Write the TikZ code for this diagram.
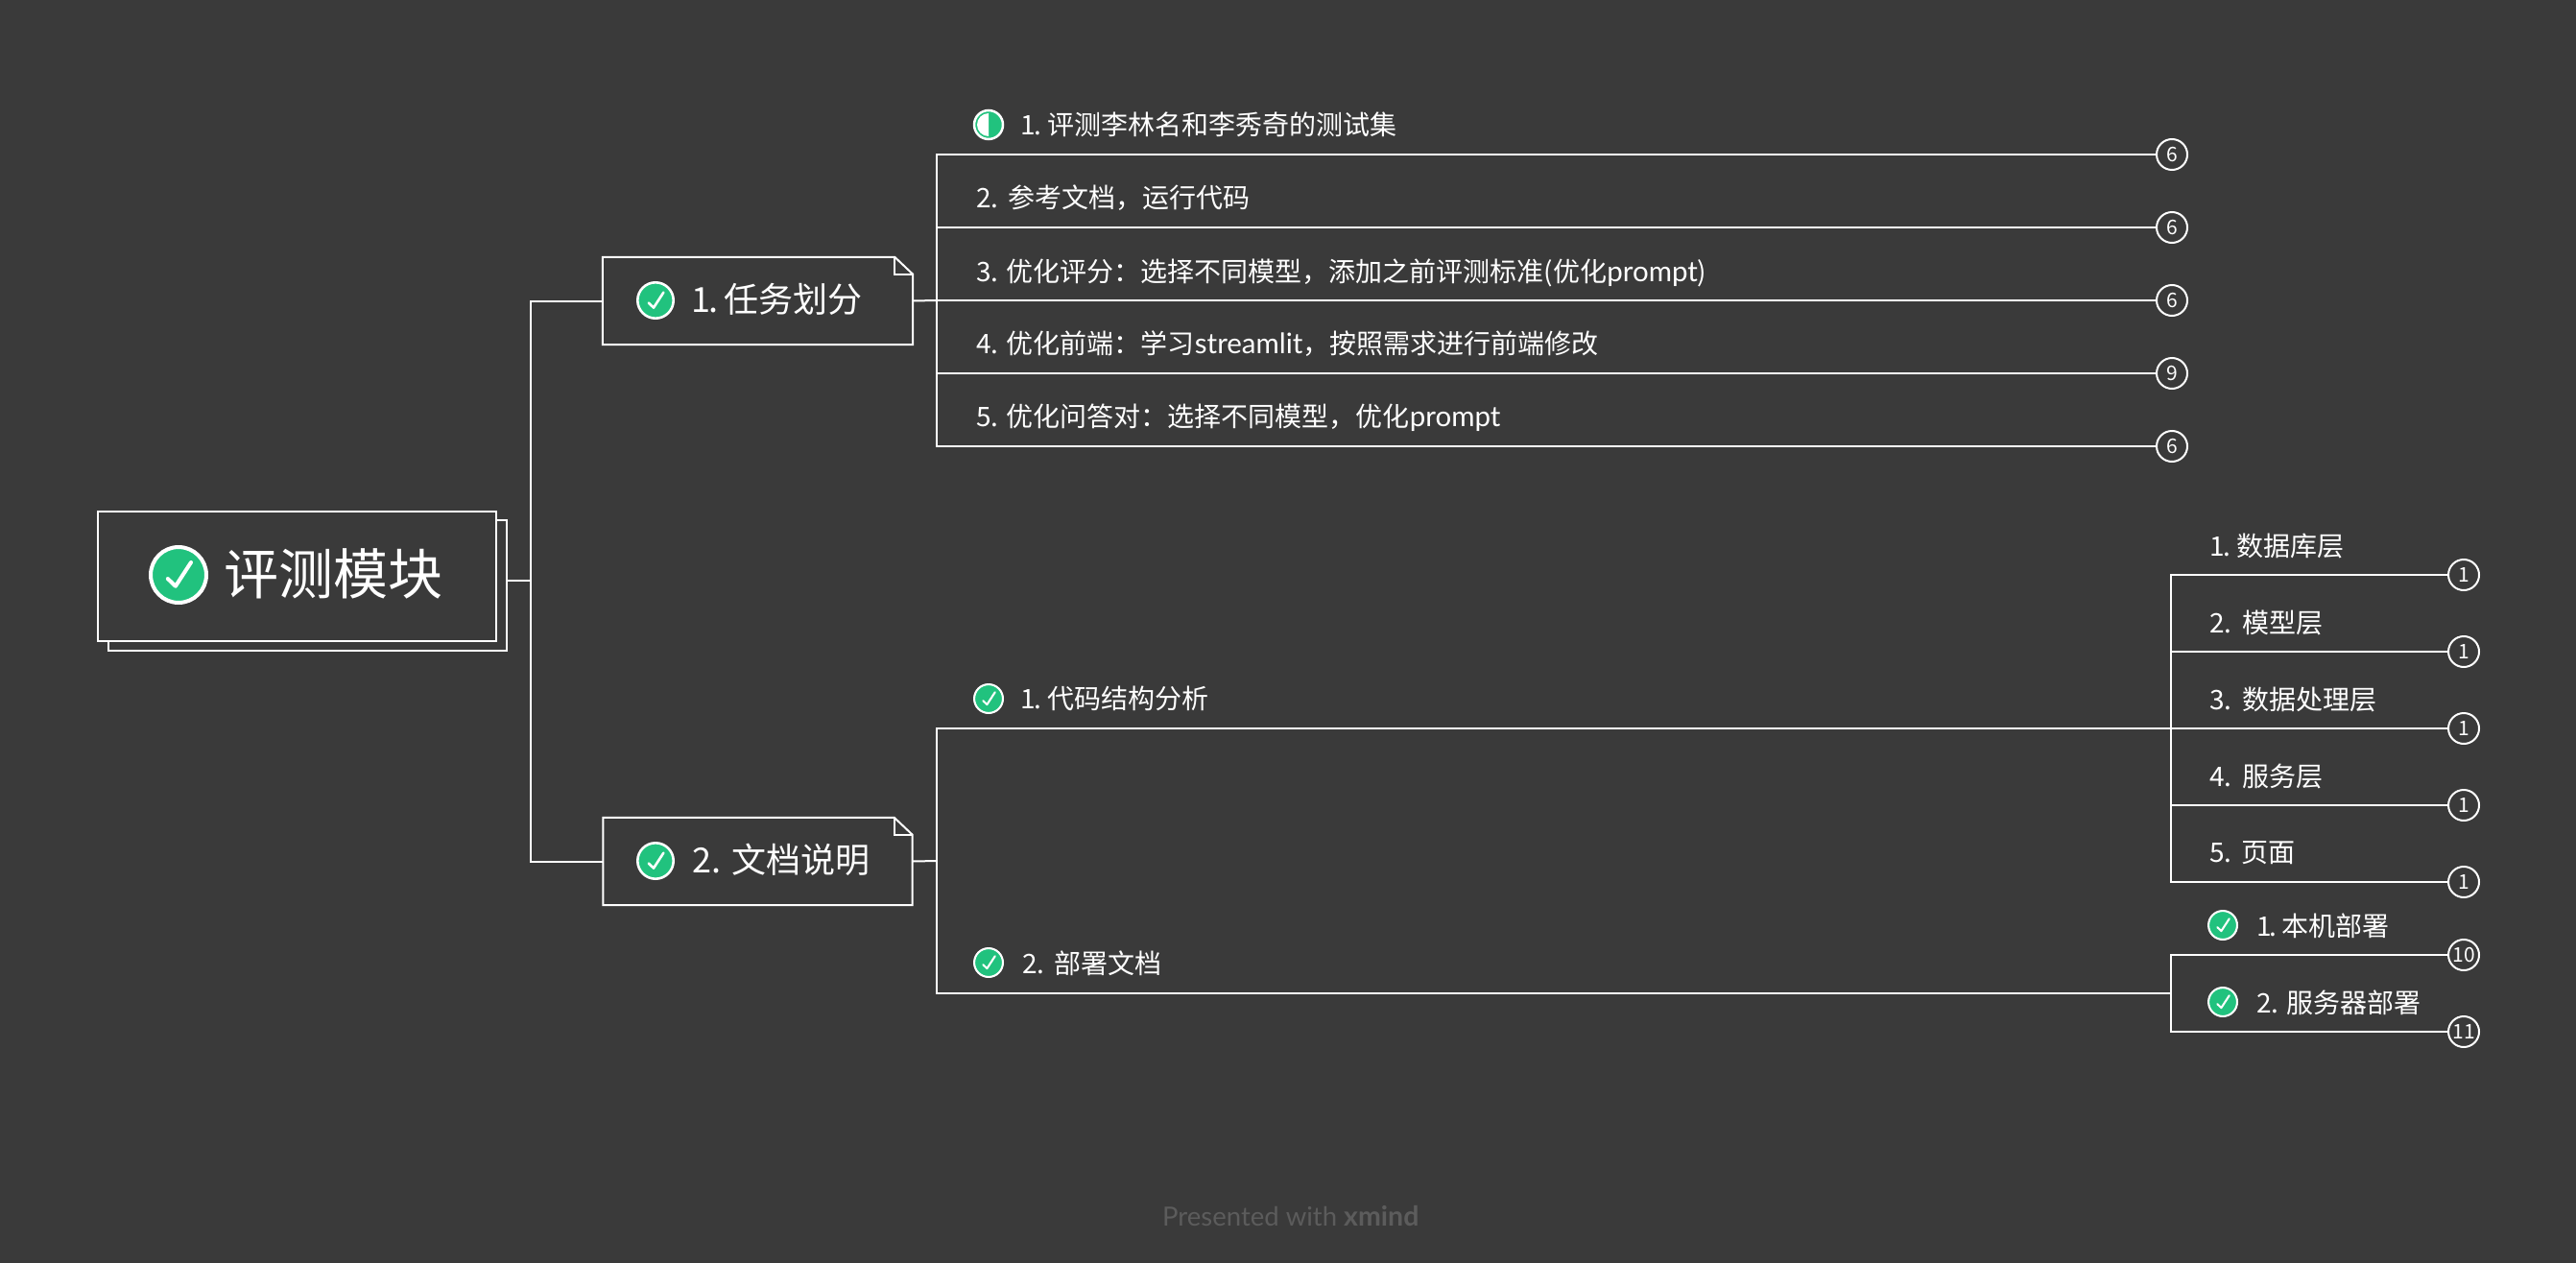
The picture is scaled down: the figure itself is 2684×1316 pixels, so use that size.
\documentclass[tikz,border=0pt]{standalone}
\usepackage{fontspec}
\setmainfont{Noto Sans CJK SC}
\newfontfamily\footfont{Lato}
\usetikzlibrary{calc}

\definecolor{boardgray}{HTML}{3A3A3A}
\definecolor{donegreen}{HTML}{21C27E}
\definecolor{footgray}{HTML}{5C5C5C}

\tikzset{
	link/.style={draw=white, line width=2pt},
	boxline/.style={draw=white, line width=2pt, fill=boardgray},
	badge/.style={circle, draw=white, line width=2pt, fill=boardgray, minimum size=32pt, inner sep=0pt, text=white, font=\fontsize{21}{24}\selectfont},
	ball/.style={circle, draw=white, fill=donegreen, inner sep=0pt},
	smalltext/.style={anchor=base west, inner sep=0pt, text=white, font=\fontsize{28}{34}\selectfont},
	tasktext/.style={anchor=base west, inner sep=0pt, text=white, font=\fontsize{36}{44}\selectfont},
	roottext/.style={anchor=base west, inner sep=0pt, text=white, font=\fontsize{57}{68}\selectfont},
}
\def\lat#1{{\footfont\fontsize{29.5}{34}\selectfont #1}}
\def\doneicon[#1](#2)(#3){
	\node[ball, line width=#1*0.13pt, minimum size=#1*1.87pt] (#2) at (#3) {};
	\draw[white, line width=#1*0.13pt, line cap=round, line join=round]
		($(#2)+(-#1*0.36,#1*0.13)$) -- ($(#2)+(-#1*0.1,#1*0.38)$) -- ($(#2)+(#1*0.42,-#1*0.42)$);
}

\begin{document}
\begin{tikzpicture}[x=1pt, y=-1pt]
	%%%%% START %%%%%
	\fill[boardgray] (0, 0) rectangle (2684, 1316);
	\useasboundingbox (0, 0) rectangle (2684, 1316);

	% root
	\node[boxline, rectangle, minimum width=415pt, minimum height=136pt, inner sep=0pt] (rootback) at (320, 610) {};
	\node[boxline, rectangle, minimum width=415pt, minimum height=135pt, inner sep=0pt] (root) at (309.5, 600.5) {};
	\doneicon[31](rootcheck)(186, 599)
	\node[roottext] (roottitle) at (233, 619.5) {评测模块};

	% first level
	\coordinate (rootout) at (527, 605);
	\coordinate (rootbus) at (553, 605);
	\node[rectangle, minimum width=323pt, minimum height=91pt, inner sep=0pt] (taskA) at (789.5, 313.5) {};
	\node[rectangle, minimum width=322pt, minimum height=91pt, inner sep=0pt] (taskB) at (789.5, 897.5) {};
	\draw[link] (rootout) -- (rootbus);
	\draw[link] (taskA.west) -| (rootbus) |- (taskB.west);

	\draw[boxline] (taskA.north west) -- ($(taskA.north east)+(-19,0)$) -- ($(taskA.north east)+(0,18)$) -- (taskA.south east) -- (taskA.south west) -- cycle;
	\draw[link] ($(taskA.north east)+(-19,0)$) -- ($(taskA.north east)+(-19,18)$) -- ($(taskA.north east)+(0,18)$);
	\draw[boxline] (taskB.north west) -- ($(taskB.north east)+(-19,0)$) -- ($(taskB.north east)+(0,18)$) -- (taskB.south east) -- (taskB.south west) -- cycle;
	\draw[link] ($(taskB.north east)+(-19,0)$) -- ($(taskB.north east)+(-19,18)$) -- ($(taskB.north east)+(0,18)$);

	\doneicon[20](checkA)(683, 313)
	\node[tasktext] (titleA) at (720, 325) {1\kern-2pt.\kern-4pt{} 任务划分};
	\doneicon[20](checkB)(683, 897)
	\node[tasktext] (titleB) at (721, 909) {2.\kern1pt{} 文档说明};

	% left branch, upper
	\coordinate (busA) at (976, 313);
	\node[badge] (badgeA) at (2263, 161) {6};
	\node[badge] (badgeB) at (2263, 237) {6};
	\node[badge] (badgeC) at (2263, 313) {6};
	\node[badge] (badgeD) at (2263, 389) {9};
	\node[badge] (badgeE) at (2263, 465) {6};
	\draw[link] (taskA.east) -- (busA);
	\draw[link] (badgeA.west) -| (busA);
	\draw[link] (badgeB.west) -| (busA);
	\draw[link] (badgeC.west) -- (busA);
	\draw[link] (badgeD.west) -| (busA);
	\draw[link] (badgeE.west) -| (busA);

	\node[ball, line width=2.5pt, minimum size=30pt] (halfA) at (1030, 130) {};
	\fill[white] ($(halfA)+(0,12)$) arc (90:270:12) -- cycle;
	\node[smalltext] (textA) at (1063, 141) {1\kern-1.5pt.\kern-1.5pt{} 评测李林名和李秀奇的测试集};
	\node[smalltext] (textB) at (1017, 217) {2.\kern2pt{} 参考文档，运行代码};
	\node[smalltext] (textC) at (1017, 293) {3. 优化评分：选择不同模型，添加之前评测标准(优化\lat{prompt})};
	\node[smalltext] (textD) at (1017, 368) {4. 优化前端：学习\lat{streamlit}，按照需求进行前端修改};
	\node[smalltext] (textE) at (1017, 444) {5. 优化问答对：选择不同模型，优化\lat{prompt}};

	% lower branch
	\coordinate (busB) at (976, 897);
	\coordinate (nodeC) at (2262, 759);
	\coordinate (nodeD) at (2262, 1035);
	\draw[link] (taskB.east) -- (busB);
	\draw[link] (nodeC) -| (busB);
	\draw[link] (nodeD) -| (busB);
	\doneicon[16](checkC)(1030, 728)
	\node[smalltext] (textF) at (1063, 738.5) {1\kern-1.5pt.\kern-1.5pt{} 代码结构分析};
	\doneicon[16](checkD)(1030, 1003)
	\node[smalltext] (textG) at (1065, 1014) {2.\kern2pt{} 部署文档};

	% right side
	\node[badge] (badgeF) at (2567, 599) {1};
	\node[badge] (badgeG) at (2567, 679) {1};
	\node[badge] (badgeH) at (2567, 759) {1};
	\node[badge] (badgeI) at (2567, 839) {1};
	\node[badge] (badgeJ) at (2567, 919) {1};
	\node[badge] (badgeK) at (2567, 995) {10};
	\node[badge] (badgeL) at (2567, 1075) {11};
	\draw[link] (badgeF.west) -| (nodeC);
	\draw[link] (badgeG.west) -| (nodeC);
	\draw[link] (badgeH.west) -- (nodeC);
	\draw[link] (badgeI.west) -| (nodeC);
	\draw[link] (badgeJ.west) -| (nodeC);
	\draw[link] (badgeK.west) -| (nodeD);
	\draw[link] (badgeL.west) -| (nodeD);

	\node[smalltext] (textH) at (2302, 579.5) {1\kern-1.5pt.\kern-1.5pt{} 数据库层};
	\node[smalltext] (textI) at (2302, 659.5) {2.\kern3pt{} 模型层};
	\node[smalltext] (textJ) at (2302, 739.5) {3.\kern3pt{} 数据处理层};
	\node[smalltext] (textK) at (2302, 819.5) {4.\kern3pt{} 服务层};
	\node[smalltext] (textL) at (2302, 898.5) {5.\kern2pt{} 页面};
	\doneicon[16](checkE)(2316, 964)
	\node[smalltext] (textM) at (2351, 975) {1\kern-2pt.\kern-3pt{} 本机部署};
	\doneicon[16](checkF)(2316, 1044)
	\node[smalltext] (textN) at (2351, 1055) {2. 服务器部署};

	% footer
	\node[anchor=base west, inner sep=0pt, text=footgray, font=\footfont\fontsize{27.5}{32}\selectfont] (footer) at (1211, 1277) {Presented with {\fontsize{28.5}{32}\selectfont\bfseries xmind}};
	%%%%% END %%%%%
\end{tikzpicture}
\end{document}
